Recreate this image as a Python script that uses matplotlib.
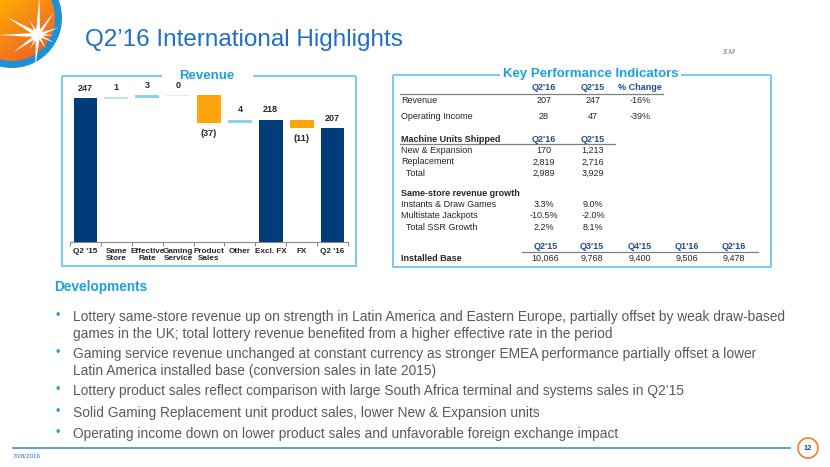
import numpy as np
import matplotlib
matplotlib.use("Agg")
import matplotlib.pyplot as plt
from matplotlib.patches import Rectangle, Circle, Polygon
from matplotlib.colors import LinearSegmentedColormap

plt.rcParams['font.family'] = ['Liberation Sans', 'DejaVu Sans']

# ---------------- data ----------------
categories = ["Q2 '15", "Same\nStore", "Effective\nRate", "Gaming\nService", "Product\nSales",
              "Other", "Excl. FX", "FX", "Q2 '16"]
start_value = 247
deltas_1 = [1, 3, 0, -37, 4]
subtotal_value = 218
fx_delta = -11
end_value = 207

kpi_cols = ["Q2'16", "Q2'15", "% Change"]
kpi_rows = ["Revenue", "Operating Income"]
kpi_q216 = ["207", "28"]
kpi_q215 = ["247", "47"]
kpi_change = ["-16%", "-39%"]

units_rows = ["New & Expansion", "Replacement", "  Total"]
units_q216 = ["170", "2,819", "2,989"]
units_q215 = ["1,213", "2,716", "3,929"]

ssr_rows = ["Instants & Draw Games", "Multistate Jackpots", "  Total SSR Growth"]
ssr_q216 = ["3.3%", "-10.5%", "2.2%"]
ssr_q215 = ["9.0%", "-2.0%", "8.1%"]

base_quarters = ["Q2'15", "Q3'15", "Q4'15", "Q1'16", "Q2'16"]
base_values = ["10,066", "9,768", "9,400", "9,506", "9,478"]

bullets = [
    "Lottery same-store revenue up on strength in Latin America and Eastern Europe, partially offset by weak draw-based\ngames in the UK; total lottery revenue benefited from a higher effective rate in the period",
    "Gaming service revenue unchanged at constant currency as stronger EMEA performance partially offset a lower\nLatin America installed base (conversion sales in late 2015)",
    "Lottery product sales reflect comparison with large South Africa terminal and systems sales in Q2\u201915",
    "Solid Gaming Replacement unit product sales, lower New & Expansion units",
    "Operating income down on lower product sales and unfavorable foreign exchange impact",
]

# ---------------- colours ----------------
NAVY = "#003b7a"
ORANGE = "#ffa40a"
LIGHT = "#8fd0ef"
FRAME = "#6cc6ee"
TITLE_BLUE = "#1f6fc6"
HEAD_BLUE = "#1f4f8f"
SECTION_BLUE = "#1aa0e2"
GRAY = "#595959"
DARK = "#262626"

W, H = 830, 467
fig = plt.figure(figsize=(W / 100, H / 100), dpi=100)
bg = fig.add_axes([0, 0, 1, 1])
bg.axis("off")

# ---------------- logo ----------------
yy, xx = np.mgrid[0:1:200j, 0:1:200j]
grad = xx * 0.45 + yy * 0.55
cm = LinearSegmentedColormap.from_list("logo", ["#ffe600", "#ffb000", "#f47a1c", "#e8501e"])
bg.add_patch(Circle((12, 18), 50, facecolor="#1f8fd6", edgecolor="none", zorder=1))
im = bg.imshow(grad, cmap=cm, extent=(-38, 62, 68, -32), zorder=2, aspect="auto")
im.set_clip_path(Circle((12, 18), 43, transform=bg.transData))
cx, cy = 38, 35
rays = [(88, 40, 2.2), (150, 36, 2.4), (180, 40, 2.2), (215, 30, 2.0), (265, 32, 2.2),
        (20, 22, 1.8), (55, 28, 1.8), (120, 18, 1.4), (240, 16, 1.4), (300, 16, 1.4),
        (335, 18, 1.4), (0, 16, 1.4)]
for ang, ln, wd in rays:
    a = np.deg2rad(ang)
    px, py = -np.sin(a), -np.cos(a)
    tipx, tipy = cx + ln * np.cos(a), cy - ln * np.sin(a)
    bg.add_patch(Polygon([(cx + wd * px, cy + wd * py), (tipx, tipy), (cx - wd * px, cy - wd * py)],
                         closed=True, facecolor="white", edgecolor="none", zorder=3))
bg.add_patch(Circle((cx, cy), 4.5, facecolor="white", edgecolor="none", zorder=3))

bg.set_xlim(0, W)
bg.set_ylim(H, 0)

# ---------------- header ----------------
bg.text(85, 40, "Q2\u201916 International Highlights", fontsize=17.5, color=TITLE_BLUE,
        va="center", ha="left")
bg.text(722, 52, "$ M", fontsize=5.5, color="#7f7f7f", style="italic", va="center", ha="left")

# ---------------- frames ----------------
def frame(x0, y0, x1, y1, gap0, gap1):
    kw = dict(color=FRAME, lw=1.3, solid_capstyle="butt")
    bg.plot([x0, gap0], [y0, y0], **kw)
    bg.plot([gap1, x1], [y0, y0], **kw)
    bg.plot([x1, x1, x0, x0], [y0, y1, y1, y0], **kw)

frame(62, 76, 356, 266, 162, 253)
bg.text(207, 76, "Revenue", fontsize=9.5, fontweight="bold", color=SECTION_BLUE,
        ha="center", va="center")

# ---------------- waterfall ----------------
x0p, x1p, ytop, ybot = 70, 348, 80, 242
ax = fig.add_axes([x0p / W, 1 - ybot / H, (x1p - x0p) / W, (ybot - ytop) / H])
ax.set_ylim(55.4, 271.4)
ax.set_xlim(-0.5, len(categories) - 0.5)

bottoms, heights, colors, labels = [], [], [], []
bottoms.append(0); heights.append(start_value); colors.append(NAVY); labels.append(str(start_value))
level = start_value
for d in deltas_1:
    new = level + d
    bottoms.append(min(level, new))
    heights.append(abs(d))
    colors.append(ORANGE if d < 0 else LIGHT)
    labels.append(f"({abs(d)})" if d < 0 else str(d))
    level = new
bottoms.append(0); heights.append(subtotal_value); colors.append(NAVY); labels.append(str(subtotal_value))
level = subtotal_value
bottoms.append(min(level, level + fx_delta)); heights.append(abs(fx_delta)); colors.append(ORANGE)
labels.append(f"({abs(fx_delta)})")
bottoms.append(0); heights.append(end_value); colors.append(NAVY); labels.append(str(end_value))

xs = np.arange(len(categories))
disp_h = [max(h, 2.0) for h in heights]
disp_b = [b if h >= 2.0 else b - 1.0 + h / 2 for b, h in zip(bottoms, heights)]
bar_cols = []
for c, h in zip(colors, heights):
    if c == LIGHT and h == 0:
        bar_cols.append("#d6f0fb")
    elif c == LIGHT and h <= 1:
        bar_cols.append("#b8e3f6")
    else:
        bar_cols.append(c)
ax.bar(xs, disp_h, bottom=disp_b, width=0.77, color=bar_cols, edgecolor="none", zorder=2)

for i, (b, h, c, lab) in enumerate(zip(bottoms, heights, colors, labels)):
    if c == ORANGE:
        ax.annotate(lab, (i, b), xytext=(0, -4), textcoords="offset points",
                    ha="center", va="top", fontsize=6.5, fontweight="bold", color=DARK)
    else:
        ax.annotate(lab, (i, b + h), xytext=(0, 4), textcoords="offset points",
                    ha="center", va="bottom", fontsize=6.5, fontweight="bold", color=DARK)

for s in ["top", "right", "left"]:
    ax.spines[s].set_visible(False)
ax.spines["bottom"].set_color("#8c8c8c")
ax.spines["bottom"].set_linewidth(0.8)
ax.set_yticks([])
ax.set_xticks(xs)
ax.set_xticklabels(categories, fontsize=5.9, fontweight="bold", color=DARK, linespacing=1.15,
                   va="top")
ax.tick_params(axis="x", which="major", length=0, pad=4)
ax.set_xticks(np.arange(-0.5, len(categories), 1.0), minor=True)
ax.tick_params(axis="x", which="minor", length=3, color="#8c8c8c", width=0.8)
ax.patch.set_alpha(0)

# ---------------- KPI frame & table ----------------
frame(393, 75, 771, 267, 500, 681)
bg.text(591, 74, "Key Performance Indicators", fontsize=9.5, fontweight="bold",
        color=SECTION_BLUE, ha="center", va="center")

fs = 6.5
lx = 401
c1, c2, c3 = 544, 593, 640

def hdr(x, y, s):
    bg.text(x, y, s, fontsize=fs, fontweight="bold", color=HEAD_BLUE, ha="center", va="center")

def val(x, y, s):
    bg.text(x, y, s, fontsize=fs, color=DARK, ha="center", va="center")

def lab(y, s, bold=False):
    bg.text(lx, y, s, fontsize=fs, color=DARK, ha="left", va="center",
            fontweight="bold" if bold else "normal")

for x, s in zip([c1, c2, c3], kpi_cols):
    hdr(x, 88, s)
bg.plot([400, 663], [93.5, 93.5], color="#7f7f7f", lw=0.9)
for y, name, a, b, c in zip([100.5, 116.5], kpi_rows, kpi_q216, kpi_q215, kpi_change):
    lab(y, name)
    val(c1, y, a); val(c2, y, b); val(c3, y, c)

lab(139, "Machine Units Shipped", bold=True)
hdr(c1, 139, kpi_cols[0]); hdr(c2, 139, kpi_cols[1])
bg.plot([400, 615], [144, 144], color="#7f7f7f", lw=0.9)
for y, name, a, b in zip([150.5, 162, 173.5], units_rows, units_q216, units_q215):
    lab(y, name)
    val(c1, y, a); val(c2, y, b)

lab(193, "Same-store revenue growth", bold=True)
for y, name, a, b in zip([204.5, 215.5, 227], ssr_rows, ssr_q216, ssr_q215):
    lab(y, name)
    val(c1, y, a); val(c2, y, b)

qx = [545.5, 592, 640, 687, 734]
for x, s in zip(qx, base_quarters):
    hdr(x, 246.5, s)
bg.plot([522, 758], [251.5, 251.5], color="#7f7f7f", lw=0.9)
lab(258.5, "Installed Base", bold=True)
for x, s in zip(qx, base_values):
    val(x, 258.5, s)

# ---------------- developments ----------------
bg.text(54, 287, "Developments", fontsize=9.8, fontweight="bold", color=SECTION_BLUE,
        ha="left", va="center")
bullet_y = [316, 353, 390, 412, 433]
for y, txt in zip(bullet_y, bullets):
    bg.text(58, y, "\u2022", fontsize=9, color=SECTION_BLUE, ha="center", va="center")
    bg.text(73, y - 6, txt, fontsize=9.95, color=GRAY, ha="left", va="top", linespacing=1.3)

# ---------------- footer ----------------
bg.plot([13, 790], [448, 448], color="#3a8fdb", lw=1.2)
bg.add_patch(Circle((808, 448), 10, facecolor="white", edgecolor="#f07e2a", lw=1.2))
bg.text(808, 448, "12", fontsize=5.5, fontweight="bold", color=HEAD_BLUE, ha="center", va="center")
bg.text(13, 456, "7/28/2016", fontsize=4.5, color=TITLE_BLUE, ha="left", va="center")

fig.savefig("out.png", dpi=100)
